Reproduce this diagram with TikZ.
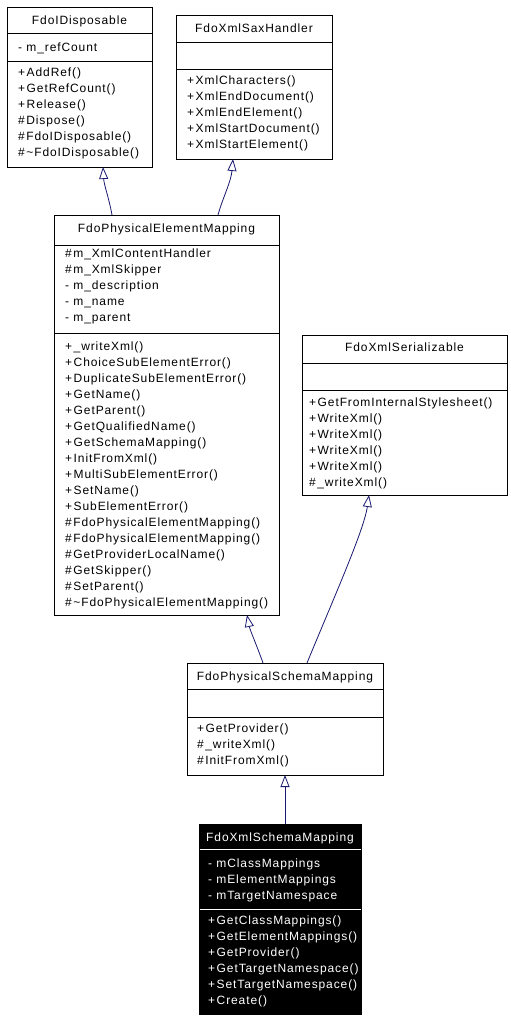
\documentclass[tikz,border=0pt]{standalone}
\usepackage{fontspec}
\setmainfont{Liberation Sans}[LetterSpace=7.5]
\usetikzlibrary{arrows.meta,calc}
\definecolor{edgeblue}{HTML}{191970}
\newcommand\mpub{+\kern1.5pt}
\newcommand\mprot{\#\kern1.5pt}
\begin{document}
\begin{tikzpicture}[x=1pt,y=-1pt,
  cls/.style={draw=black,fill=white,line width=1pt,anchor=north west,inner sep=0pt,outer sep=0pt},
  clsdark/.style={cls,fill=black},
  sep/.style={draw=black,line width=1pt},
  sepw/.style={draw=white,line width=1pt},
  txt/.style={anchor=west,inner sep=0pt,font=\fontsize{12}{14}\selectfont,text height=8.6pt,text depth=0pt},
  ttl/.style={txt,anchor=center},
  wtxt/.style={txt,text=white},
  wttl/.style={ttl,text=white},
  inh/.style={draw=edgeblue,line width=0.8pt,-{Triangle[open,length=12pt,width=9pt,fill=white]}}
]
\useasboundingbox (0,0) rectangle (511,1021);
\fill[white] (0,0) rectangle (511,1021);

% ---------- FdoIDisposable ----------
\node[cls,minimum width=145pt,minimum height=160pt] (disp) at (7,7) {};
\draw[sep] ($(disp.north west)+(0,26)$) -- ($(disp.north east)+(0,26)$);
\draw[sep] ($(disp.north west)+(0,54)$) -- ($(disp.north east)+(0,54)$);
\node[ttl] (disp-t) at (79.5,20) {FdoIDisposable};
\node[txt] (disp-a1) at (18,47) {- m\_refCount};
\node[txt] (disp-m1) at (18,72) {\mpub AddRef()};
\node[txt] (disp-m2) at (18,88) {\mpub GetRefCount()};
\node[txt] (disp-m3) at (18,104) {\mpub Release()};
\node[txt] (disp-m4) at (18,120) {\mprot Dispose()};
\node[txt] (disp-m5) at (18,136) {\mprot FdoIDisposable()};
\node[txt] (disp-m6) at (18,152) {\mprot\textasciitilde FdoIDisposable()};

% ---------- FdoXmlSaxHandler ----------
\node[cls,minimum width=156pt,minimum height=144pt] (sax) at (176,15) {};
\draw[sep] ($(sax.north west)+(0,27)$) -- ($(sax.north east)+(0,27)$);
\draw[sep] ($(sax.north west)+(0,54)$) -- ($(sax.north east)+(0,54)$);
\node[ttl] (sax-t) at (254,28) {FdoXmlSaxHandler};
\node[txt] (sax-m1) at (187,80) {\mpub XmlCharacters()};
\node[txt] (sax-m2) at (187,96) {\mpub XmlEndDocument()};
\node[txt] (sax-m3) at (187,112) {\mpub XmlEndElement()};
\node[txt] (sax-m4) at (187,128) {\mpub XmlStartDocument()};
\node[txt] (sax-m5) at (187,144) {\mpub XmlStartElement()};

% ---------- FdoPhysicalElementMapping ----------
\node[cls,minimum width=225pt,minimum height=400pt] (pem) at (54,215) {};
\draw[sep] ($(pem.north west)+(0,30)$) -- ($(pem.north east)+(0,30)$);
\draw[sep] ($(pem.north west)+(0,118)$) -- ($(pem.north east)+(0,118)$);
\node[ttl] (pem-t) at (166.5,228) {FdoPhysicalElementMapping};
\node[txt] (pem-a1) at (65,253) {\mprot m\_XmlContentHandler};
\node[txt] (pem-a2) at (65,269) {\mprot m\_XmlSkipper};
\node[txt] (pem-a3) at (65,285) {- m\_description};
\node[txt] (pem-a4) at (65,301) {- m\_name};
\node[txt] (pem-a5) at (65,317) {- m\_parent};
\node[txt] (pem-m1) at (65,346) {\mpub\_writeXml()};
\node[txt] (pem-m2) at (65,362) {\mpub ChoiceSubElementError()};
\node[txt] (pem-m3) at (65,378) {\mpub DuplicateSubElementError()};
\node[txt] (pem-m4) at (65,394) {\mpub GetName()};
\node[txt] (pem-m5) at (65,410) {\mpub GetParent()};
\node[txt] (pem-m6) at (65,426) {\mpub GetQualifiedName()};
\node[txt] (pem-m7) at (65,442) {\mpub GetSchemaMapping()};
\node[txt] (pem-m8) at (65,458) {\mpub InitFromXml()};
\node[txt] (pem-m9) at (65,474) {\mpub MultiSubElementError()};
\node[txt] (pem-m10) at (65,490) {\mpub SetName()};
\node[txt] (pem-m11) at (65,506) {\mpub SubElementError()};
\node[txt] (pem-m12) at (65,522) {\mprot FdoPhysicalElementMapping()};
\node[txt] (pem-m13) at (65,538) {\mprot FdoPhysicalElementMapping()};
\node[txt] (pem-m14) at (65,554) {\mprot GetProviderLocalName()};
\node[txt] (pem-m15) at (65,570) {\mprot GetSkipper()};
\node[txt] (pem-m16) at (65,586) {\mprot SetParent()};
\node[txt] (pem-m17) at (65,602) {\mprot\textasciitilde FdoPhysicalElementMapping()};

% ---------- FdoXmlSerializable ----------
\node[cls,minimum width=205pt,minimum height=160pt] (ser) at (302,335) {};
\draw[sep] ($(ser.north west)+(0,28)$) -- ($(ser.north east)+(0,28)$);
\draw[sep] ($(ser.north west)+(0,55)$) -- ($(ser.north east)+(0,55)$);
\node[ttl] (ser-t) at (404.5,347) {FdoXmlSerializable};
\node[txt] (ser-m1) at (309,402) {\mpub GetFromInternalStylesheet()};
\node[txt] (ser-m2) at (309,418) {\mpub WriteXml()};
\node[txt] (ser-m3) at (309,434) {\mpub WriteXml()};
\node[txt] (ser-m4) at (309,450) {\mpub WriteXml()};
\node[txt] (ser-m5) at (309,466) {\mpub WriteXml()};
\node[txt] (ser-m6) at (309,482) {\mprot\_writeXml()};

% ---------- FdoPhysicalSchemaMapping ----------
\node[cls,minimum width=196pt,minimum height=112pt] (psm) at (187,663) {};
\draw[sep] ($(psm.north west)+(0,26)$) -- ($(psm.north east)+(0,26)$);
\draw[sep] ($(psm.north west)+(0,54)$) -- ($(psm.north east)+(0,54)$);
\node[ttl] (psm-t) at (285,676) {FdoPhysicalSchemaMapping};
\node[txt] (psm-m1) at (197,728) {\mpub GetProvider()};
\node[txt] (psm-m2) at (197,744) {\mprot\_writeXml()};
\node[txt] (psm-m3) at (197,760) {\mprot InitFromXml()};

% ---------- FdoXmlSchemaMapping ----------
\node[clsdark,minimum width=162pt,minimum height=190pt] (xsm) at (199,824) {};
\draw[sepw] ($(xsm.north west)+(0.5,25)$) -- ($(xsm.north east)+(-0.5,25)$);
\draw[sepw] ($(xsm.north west)+(0.5,85)$) -- ($(xsm.north east)+(-0.5,85)$);
\node[wttl] (xsm-t) at (280,837) {FdoXmlSchemaMapping};
\node[wtxt] (xsm-a1) at (208,863) {- mClassMappings};
\node[wtxt] (xsm-a2) at (208,879) {- mElementMappings};
\node[wtxt] (xsm-a3) at (208,895) {- mTargetNamespace};
\node[wtxt] (xsm-m1) at (208,920) {\mpub GetClassMappings()};
\node[wtxt] (xsm-m2) at (208,936) {\mpub GetElementMappings()};
\node[wtxt] (xsm-m3) at (208,952) {\mpub GetProvider()};
\node[wtxt] (xsm-m4) at (208,968) {\mpub GetTargetNamespace()};
\node[wtxt] (xsm-m5) at (208,984) {\mpub SetTargetNamespace()};
\node[wtxt] (xsm-m6) at (208,1000) {\mpub Create()};

% ---------- inheritance connectors ----------
\coordinate (e1s) at ($(pem.north west)+(58,0)$);
\coordinate (e1t) at ($(disp.south west)+(96,0)$);
\coordinate (e2s) at ($(pem.north west)+(164,0)$);
\coordinate (e2t) at ($(sax.south west)+(57,0)$);
\coordinate (e3s) at ($(psm.north west)+(76,0)$);
\coordinate (e3t) at ($(pem.south west)+(193,0)$);
\coordinate (e4s) at ($(psm.north west)+(120,0)$);
\coordinate (e4t) at ($(ser.south west)+(67,0)$);
\coordinate (e5s) at ($(xsm.north west)+(86,0)$);
\coordinate (e5t) at ($(psm.south west)+(98,0)$);

\draw[inh] (e1s) .. controls (109,198) and (104,185) .. (e1t);
\draw[inh] (e2s) .. controls (223,197) and (231,182) .. (e2t);
\draw[inh] (e3s) .. controls (257,646) and (250,630) .. (e3t);
\draw[inh] (e4s) .. controls (335,595) and (364,530) .. (e4t);
\draw[inh] (e5s) -- (e5t);
\end{tikzpicture}
\end{document}
